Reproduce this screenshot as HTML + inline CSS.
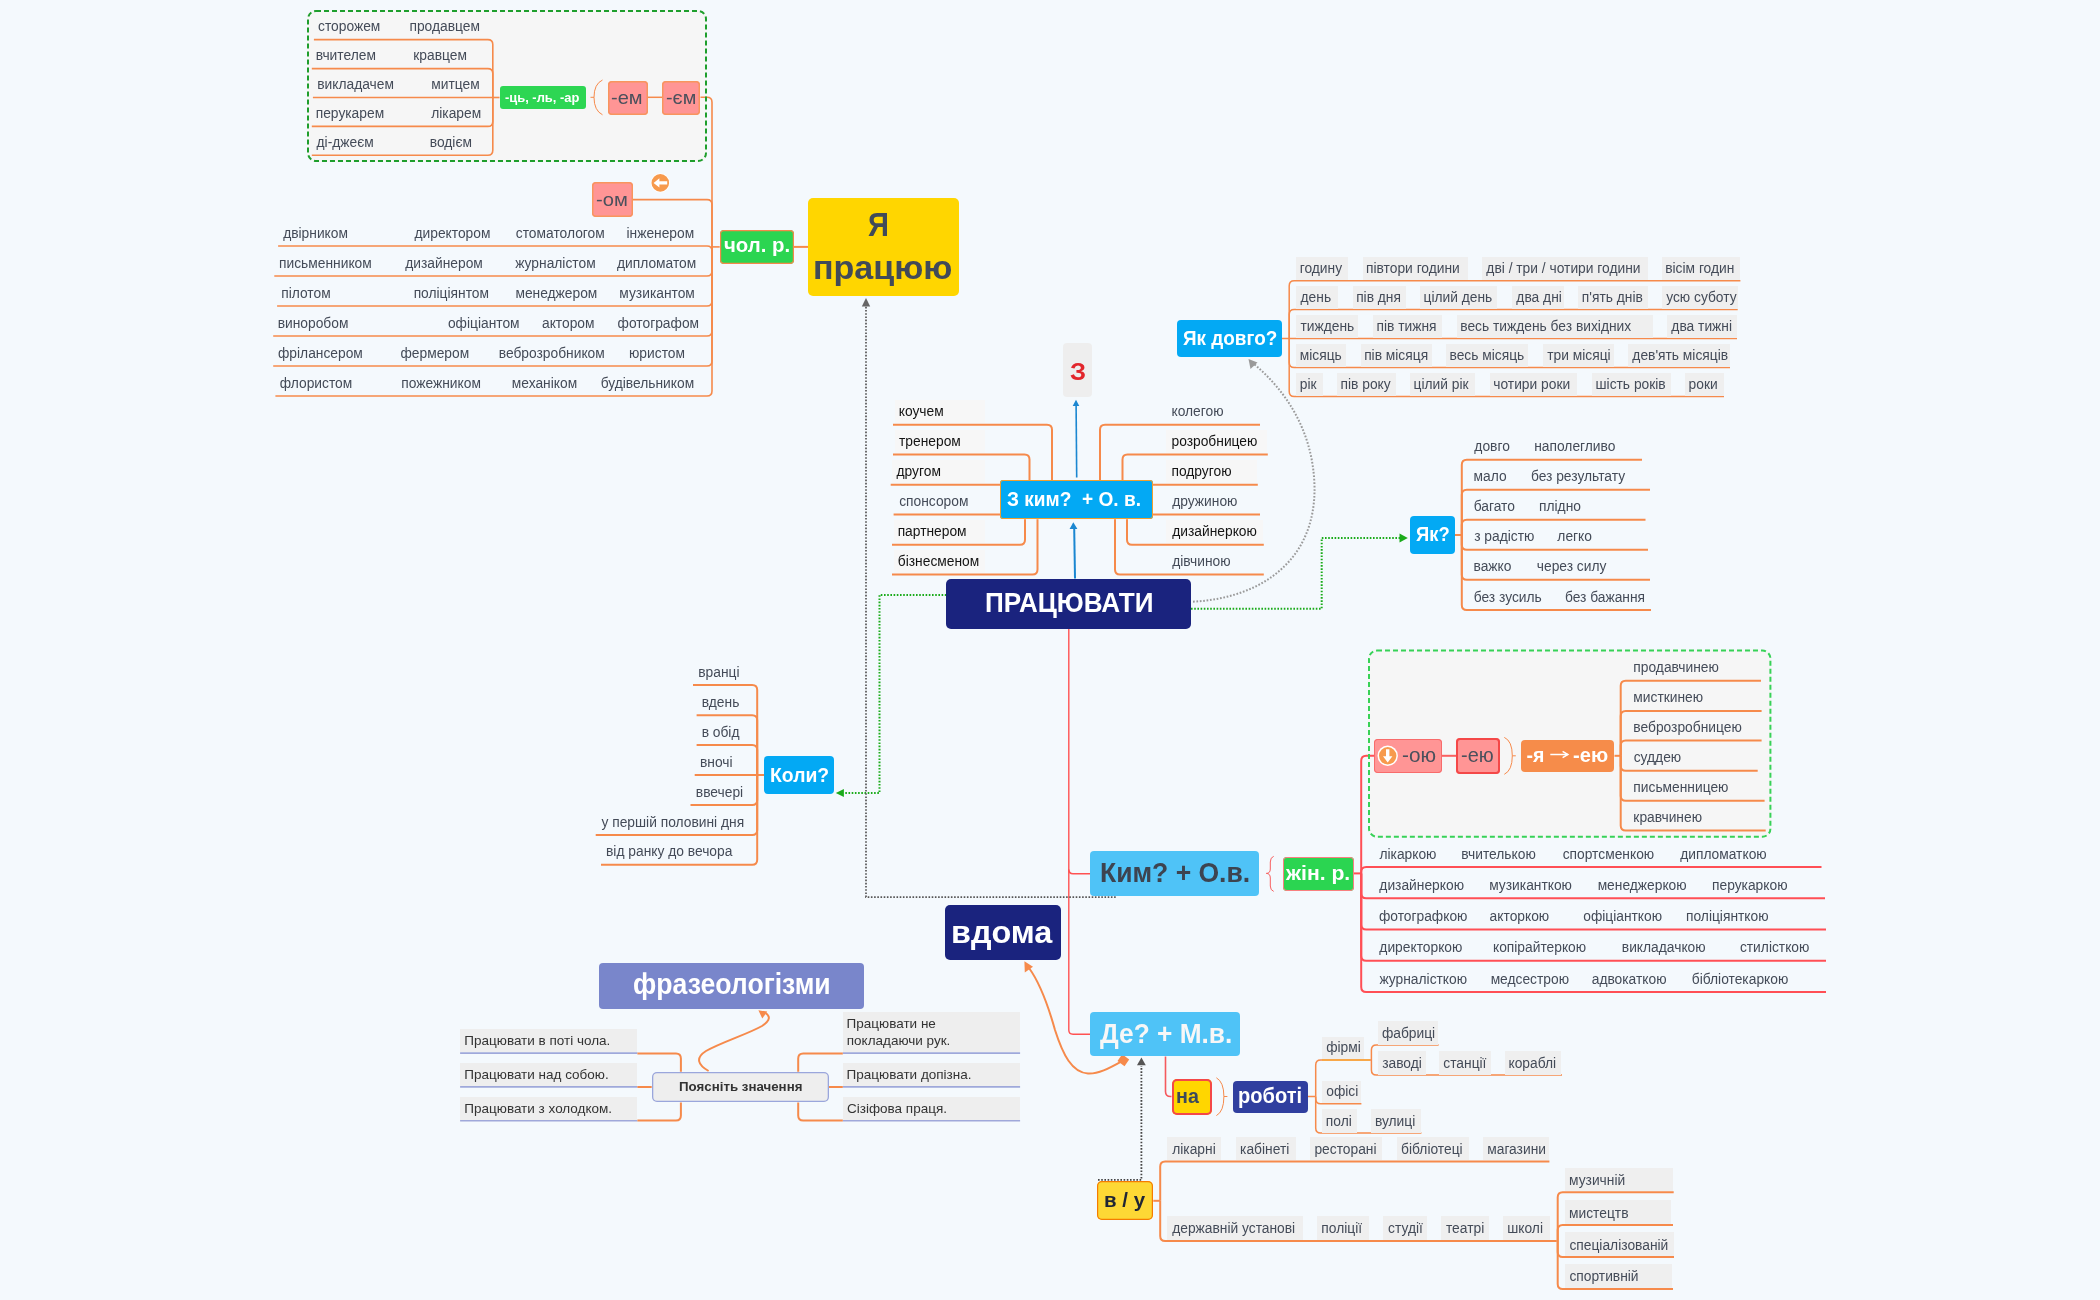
<!DOCTYPE html>
<html><head><meta charset="utf-8"><style>
html,body{margin:0;padding:0;}
body{width:2100px;height:1300px;background:#f4f9fd;position:relative;overflow:hidden;font-family:"Liberation Sans", sans-serif;}
.a{position:absolute;}
.t{position:absolute;white-space:nowrap;}
svg{position:absolute;left:0;top:0;}
</style></head><body>
<svg width="2100" height="1300"><rect x="307" y="10" width="400" height="152" rx="8" fill="#f6f6f6"/><rect x="1368" y="649.6" width="403.4000000000001" height="188.10000000000002" rx="8" fill="#f6f6f6"/></svg>
<svg width="2100" height="1300"><path d="M499.5,97.5 L492.8,97.5" fill="none" stroke="#f68a4b" stroke-width="1.6" /><path d="M492.8,97.5 L492.8,44.6 Q492.8,39.6 487.8,39.6 L313.9,39.6" fill="none" stroke="#f68a4b" stroke-width="1.6" /><path d="M492.8,97.5 L492.8,73.6 Q492.8,68.6 487.8,68.6 L311.8,68.6" fill="none" stroke="#f68a4b" stroke-width="1.6" /><path d="M492.8,97.5 L312.9,97.5" fill="none" stroke="#f68a4b" stroke-width="1.6" /><path d="M492.8,97.5 L492.8,121.4 Q492.8,126.4 487.8,126.4 L311.8,126.4" fill="none" stroke="#f68a4b" stroke-width="1.6" /><path d="M492.8,97.5 L492.8,150.2 Q492.8,155.2 487.8,155.2 L311.8,155.2" fill="none" stroke="#f68a4b" stroke-width="1.6" /><path d="M590.5,97.3 H594 M602.5,80 Q594,84 594,97.3 Q594,110.5 602.5,114.8" fill="none" stroke="#f68a4b" stroke-width="1" /><path d="M647.7,97.3 H662.2" fill="none" stroke="#f68a4b" stroke-width="1.5" /><path d="M719.7,246.9 L712,246.9" fill="none" stroke="#f68a4b" stroke-width="1.6" /><path d="M712,246.9 L712,102.3 Q712,97.3 707,97.3 L700.5,97.3" fill="none" stroke="#f68a4b" stroke-width="1.6" /><path d="M712,246.9 L712,204.6 Q712,199.6 707,199.6 L632.7,199.6" fill="none" stroke="#f68a4b" stroke-width="1.6" /><path d="M712,246.9 L712,251 Q712,246 707,246 L278.1,246" fill="none" stroke="#f68a4b" stroke-width="1.6" /><path d="M712,246.9 L712,271 Q712,276 707,276 L274.3,276" fill="none" stroke="#f68a4b" stroke-width="1.6" /><path d="M712,246.9 L712,301 Q712,306 707,306 L277.1,306" fill="none" stroke="#f68a4b" stroke-width="1.6" /><path d="M712,246.9 L712,331 Q712,336 707,336 L273.2,336" fill="none" stroke="#f68a4b" stroke-width="1.6" /><path d="M712,246.9 L712,361 Q712,366 707,366 L273.2,366" fill="none" stroke="#f68a4b" stroke-width="1.6" /><path d="M712,246.9 L712,391 Q712,396 707,396 L275.4,396" fill="none" stroke="#f68a4b" stroke-width="1.6" /><path d="M793.9,246.9 H808" fill="none" stroke="#f68a4b" stroke-width="2" /><path d="M1076.7,477.5 L1076.1,405" fill="none" stroke="#1b87d1" stroke-width="1.6" /><path d="M1076,399.8 L1072.7,406 L1079.3,406 Z" fill="#1b87d1"/><path d="M1075,578.5 L1074.2,528" fill="none" stroke="#1b87d1" stroke-width="2" /><path d="M1073.3,522.3 L1069.6,529 L1077.4,529 Z" fill="#1b87d1"/><path d="M893,424.7 H1047 Q1052,424.7 1052,429.7 V480.2" fill="none" stroke="#f68a4b" stroke-width="2" /><path d="M893,454.6 H1024.5 Q1029.5,454.6 1029.5,459.6 V480.2" fill="none" stroke="#f68a4b" stroke-width="2" /><path d="M890.7,484.7 H1000.2" fill="none" stroke="#f68a4b" stroke-width="2" /><path d="M893.6,514.5 H1000.2" fill="none" stroke="#f68a4b" stroke-width="2" /><path d="M892,544.8 H1020 Q1025,544.8 1025,539.8 V519.2" fill="none" stroke="#f68a4b" stroke-width="2" /><path d="M892,574.6 H1032.5 Q1037.5,574.6 1037.5,569.6 V519.2" fill="none" stroke="#f68a4b" stroke-width="2" /><path d="M1260,424.7 H1105 Q1100,424.7 1100,429.7 V480.2" fill="none" stroke="#f68a4b" stroke-width="2" /><path d="M1267.8,454.6 H1127.5 Q1122.5,454.6 1122.5,459.6 V480.2" fill="none" stroke="#f68a4b" stroke-width="2" /><path d="M1152.8,484.7 H1257.8" fill="none" stroke="#f68a4b" stroke-width="2" /><path d="M1152.8,514.5 H1260" fill="none" stroke="#f68a4b" stroke-width="2" /><path d="M1263.8,544.8 H1132 Q1127,544.8 1127,539.8 V519.2" fill="none" stroke="#f68a4b" stroke-width="2" /><path d="M1263.8,574.6 H1120 Q1115,574.6 1115,569.6 V519.2" fill="none" stroke="#f68a4b" stroke-width="2" /><path d="M1068.8,628.6 V1030 Q1068.8,1034.2 1073,1034.2 H1090.3" fill="none" stroke="#ff5252" stroke-width="1.4" /><path d="M1068.8,869.5 Q1068.8,873.7 1073,873.7 H1090.3" fill="none" stroke="#ff5252" stroke-width="1.6" /><path d="M1282,338.5 L1289.2,338.5" fill="none" stroke="#f68a4b" stroke-width="1.5" /><path d="M1289.2,338.5 L1289.2,285.8 Q1289.2,280.8 1294.2,280.8 L1740.4,280.8" fill="none" stroke="#f68a4b" stroke-width="1.5" /><path d="M1289.2,338.5 L1289.2,314.6 Q1289.2,309.6 1294.2,309.6 L1737.7,309.6" fill="none" stroke="#f68a4b" stroke-width="1.5" /><path d="M1289.2,338.6 L1737,338.6" fill="none" stroke="#f68a4b" stroke-width="1.5" /><path d="M1289.2,338.5 L1289.2,362.6 Q1289.2,367.6 1294.2,367.6 L1730,367.6" fill="none" stroke="#f68a4b" stroke-width="1.5" /><path d="M1289.2,338.5 L1289.2,391.4 Q1289.2,396.4 1294.2,396.4 L1724,396.4" fill="none" stroke="#f68a4b" stroke-width="1.5" /><path d="M1455,535 L1461.8,535" fill="none" stroke="#f68a4b" stroke-width="2" /><path d="M1461.8,535 L1461.8,464.8 Q1461.8,459.8 1466.8,459.8 L1642,459.8" fill="none" stroke="#f68a4b" stroke-width="2" /><path d="M1461.8,535 L1461.8,494.8 Q1461.8,489.8 1466.8,489.8 L1650,489.8" fill="none" stroke="#f68a4b" stroke-width="2" /><path d="M1461.8,535 L1461.8,524.8 Q1461.8,519.8 1466.8,519.8 L1645.5,519.8" fill="none" stroke="#f68a4b" stroke-width="2" /><path d="M1461.8,535 L1461.8,544.8 Q1461.8,549.8 1466.8,549.8 L1648,549.8" fill="none" stroke="#f68a4b" stroke-width="2" /><path d="M1461.8,535 L1461.8,574.8 Q1461.8,579.8 1466.8,579.8 L1650,579.8" fill="none" stroke="#f68a4b" stroke-width="2" /><path d="M1461.8,535 L1461.8,605.0 Q1461.8,610.0 1466.8,610.0 L1651,610.0" fill="none" stroke="#f68a4b" stroke-width="2" /><path d="M1191,608.8 H1321.7 V538 H1400" fill="none" stroke="#1aab1a" stroke-width="2" stroke-dasharray="1.6,1.6" /><path d="M1407.8,538 L1399.5,533.4 L1399.5,542.6 Z" fill="#1aab1a"/><path d="M1193,601.7 C1262,598 1316,560 1314.5,486 C1313,430 1285,390 1254,364" fill="none" stroke="#9a9a9a" stroke-width="2" stroke-dasharray="1.7,1.7" /><path d="M1248.5,359 L1250.5,369 L1257.5,362.5 Z" fill="#9a9a9a"/><path d="M1441.5,755.8 H1456.2" fill="none" stroke="#f96060" stroke-width="2" /><path d="M1504.3,737.4 Q1512.3,741 1512.3,755.8 Q1512.3,770.5 1504.3,774.3 M1512.3,755.8 H1515.8" fill="none" stroke="#f68a4b" stroke-width="1" /><path d="M1614.5,755.8 L1620.7,755.8" fill="none" stroke="#f68a4b" stroke-width="2" /><path d="M1620.7,755.8 L1620.7,685.7 Q1620.7,680.7 1625.7,680.7 L1761,680.7" fill="none" stroke="#f68a4b" stroke-width="2" /><path d="M1620.7,755.8 L1620.7,715.9 Q1620.7,710.9 1625.7,710.9 L1761.6,710.9" fill="none" stroke="#f68a4b" stroke-width="2" /><path d="M1620.7,755.8 L1620.7,745.6 Q1620.7,740.6 1625.7,740.6 L1761.6,740.6" fill="none" stroke="#f68a4b" stroke-width="2" /><path d="M1620.7,755.8 L1620.7,765.7 Q1620.7,770.7 1625.7,770.7 L1757.7,770.7" fill="none" stroke="#f68a4b" stroke-width="2" /><path d="M1620.7,755.8 L1620.7,795.7 Q1620.7,800.7 1625.7,800.7 L1764.6,800.7" fill="none" stroke="#f68a4b" stroke-width="2" /><path d="M1620.7,755.8 L1620.7,825.4 Q1620.7,830.4 1625.7,830.4 L1765.7,830.4" fill="none" stroke="#f68a4b" stroke-width="2" /><path d="M1273.7,856.3 Q1270.3,857.5 1270.3,862 V869 Q1270.3,873.4 1266.3,873.4 Q1270.3,873.4 1270.3,878 V886 Q1270.3,890.2 1273.7,891.4" fill="none" stroke="#f86060" stroke-width="1" /><path d="M1354,873.4 L1361.2,873.4" fill="none" stroke="#ff4f55" stroke-width="2" /><path d="M1361.2,873.4 L1361.2,760.8 Q1361.2,755.8 1366.2,755.8 L1374,755.8" fill="none" stroke="#ff4f55" stroke-width="2" /><path d="M1361.2,873.4 L1361.2,872.1 Q1361.2,867.1 1366.2,867.1 L1821.5,867.1" fill="none" stroke="#ff4f55" stroke-width="2" /><path d="M1361.2,873.4 L1361.2,893.3 Q1361.2,898.3 1366.2,898.3 L1825,898.3" fill="none" stroke="#ff4f55" stroke-width="2" /><path d="M1361.2,873.4 L1361.2,924.5 Q1361.2,929.5 1366.2,929.5 L1826,929.5" fill="none" stroke="#ff4f55" stroke-width="2" /><path d="M1361.2,873.4 L1361.2,955.8 Q1361.2,960.8 1366.2,960.8 L1826,960.8" fill="none" stroke="#ff4f55" stroke-width="2" /><path d="M1361.2,873.4 L1361.2,987.0 Q1361.2,992.0 1366.2,992.0 L1826,992.0" fill="none" stroke="#ff4f55" stroke-width="2" /><path d="M1165.5,1056.5 V1091.5 Q1165.5,1096.5 1170.5,1096.5 H1171.5" fill="none" stroke="#f55a5e" stroke-width="1.6" /><path d="M1216.4,1077.8 Q1223.9,1082 1223.9,1096.5 Q1223.9,1111.5 1216.4,1115.6 M1223.9,1096.5 H1227.4" fill="none" stroke="#f68a4b" stroke-width="1" /><path d="M1307.9,1096.5 L1315.7,1096.5" fill="none" stroke="#f68a4b" stroke-width="1.5" /><path d="M1315.7,1096.5 L1315.7,1065 Q1315.7,1060 1320.7,1060 L1370,1060" fill="none" stroke="#f68a4b" stroke-width="1.5" /><path d="M1315.7,1096.5 L1315.7,1098.7 Q1315.7,1103.7 1320.7,1103.7 L1361.4,1103.7" fill="none" stroke="#f68a4b" stroke-width="1.5" /><path d="M1315.7,1096.5 L1315.7,1127.9 Q1315.7,1132.9 1320.7,1132.9 L1421.4,1132.9" fill="none" stroke="#f68a4b" stroke-width="1.5" /><path d="M1322,1060 H1370" fill="none" stroke="#f9a83a" stroke-width="1.5" /><path d="M1370,1060 L1371.4,1060" fill="none" stroke="#f68a4b" stroke-width="1.5" /><path d="M1371.4,1060 L1371.4,1049.9 Q1371.4,1044.9 1376.4,1044.9 L1438.6,1044.9" fill="none" stroke="#f68a4b" stroke-width="1.5" /><path d="M1371.4,1060 L1371.4,1069.9 Q1371.4,1074.9 1376.4,1074.9 L1562,1074.9" fill="none" stroke="#f68a4b" stroke-width="1.5" /><path d="M1153.3,1200.8 L1160.2,1200.8" fill="none" stroke="#f68a4b" stroke-width="2" /><path d="M1160.2,1200.8 L1160.2,1166.4 Q1160.2,1161.4 1165.2,1161.4 L1549.4,1161.4" fill="none" stroke="#f68a4b" stroke-width="2" /><path d="M1160.2,1200.8 L1160.2,1235.9 Q1160.2,1240.9 1165.2,1240.9 L1556.6,1240.9" fill="none" stroke="#f68a4b" stroke-width="2" /><path d="M1556.6,1240.9 L1557.7,1240.9" fill="none" stroke="#f68a4b" stroke-width="2" /><path d="M1557.7,1240.9 L1557.7,1197.3 Q1557.7,1192.3 1562.7,1192.3 L1673.7,1192.3" fill="none" stroke="#f68a4b" stroke-width="2" /><path d="M1557.7,1240.9 L1557.7,1229.9 Q1557.7,1224.9 1562.7,1224.9 L1673,1224.9" fill="none" stroke="#f68a4b" stroke-width="2" /><path d="M1557.7,1240.9 L1557.7,1252 Q1557.7,1257 1562.7,1257 L1674,1257" fill="none" stroke="#f68a4b" stroke-width="2" /><path d="M1557.7,1240.9 L1557.7,1284.1 Q1557.7,1289.1 1562.7,1289.1 L1673,1289.1" fill="none" stroke="#f68a4b" stroke-width="2" /><path d="M1098,1179.9 H1141.4 V1066" fill="none" stroke="#444" stroke-width="1.8" stroke-dasharray="1.6,1.6" /><path d="M1141.4,1057.4 L1137,1065.2 L1145.8,1065.2 Z" fill="#555"/><path d="M764,775 L757.2,775" fill="none" stroke="#f68a4b" stroke-width="2" /><path d="M757.2,775 L757.2,690 Q757.2,685 752.2,685 L693,685" fill="none" stroke="#f68a4b" stroke-width="2" /><path d="M757.2,775 L757.2,720.2 Q757.2,715.2 752.2,715.2 L696.6,715.2" fill="none" stroke="#f68a4b" stroke-width="2" /><path d="M757.2,775 L757.2,750 Q757.2,745 752.2,745 L696.6,745" fill="none" stroke="#f68a4b" stroke-width="2" /><path d="M757.2,775.1 L694.7,775.1" fill="none" stroke="#f68a4b" stroke-width="2" /><path d="M757.2,775 L757.2,800 Q757.2,805 752.2,805 L690.5,805" fill="none" stroke="#f68a4b" stroke-width="2" /><path d="M757.2,775 L757.2,830.1 Q757.2,835.1 752.2,835.1 L595.7,835.1" fill="none" stroke="#f68a4b" stroke-width="2" /><path d="M757.2,775 L757.2,859.7 Q757.2,864.7 752.2,864.7 L601,864.7" fill="none" stroke="#f68a4b" stroke-width="2" /><path d="M946.4,594.9 H879.5 V793 H844" fill="none" stroke="#1aab1a" stroke-width="2" stroke-dasharray="1.6,1.6" /><path d="M835.8,793 L843.9,789 L843.9,797 Z" fill="#1aab1a"/><path d="M1115.7,897.1 H866 V306" fill="none" stroke="#555" stroke-width="1.7" stroke-dasharray="1.6,1.6" /><path d="M866,297.9 L861.8,306.5 L870.2,306.5 Z" fill="#666"/><path d="M1123.4,1060.3 C1108,1069 1098,1074 1088,1073.5 C1072,1072.5 1063,1055 1055,1030 C1048,1005 1040,983 1029,968" fill="none" stroke="#f68a4b" stroke-width="2" /><path d="M1024.4,961.3 L1024.8,972.5 L1033,966.8 Z" fill="#f68a4b"/><path d="M1117.5,1061 L1122.2,1054.3 L1129.2,1059.6 L1124.5,1066.3 Z" fill="#f68a4b"/><path d="M708.6,1071 C698,1065 695,1058 706,1051 C722,1042 748,1034 762,1026 C771,1020 770,1016 765.5,1013" fill="none" stroke="#f68a4b" stroke-width="2" /><path d="M758.4,1010.3 L767.2,1011.6 L762.3,1018.6 Z" fill="#f68a4b"/><path d="M460.1,1053.1 H637.4" fill="none" stroke="#9fa8da" stroke-width="1.6" /><path d="M460.1,1086.8999999999999 H637.4" fill="none" stroke="#9fa8da" stroke-width="1.6" /><path d="M460.1,1120.8 H637.4" fill="none" stroke="#9fa8da" stroke-width="1.6" /><path d="M842.8,1086.8999999999999 H1020.1" fill="none" stroke="#9fa8da" stroke-width="1.6" /><path d="M842.8,1120.8 H1020.1" fill="none" stroke="#9fa8da" stroke-width="1.6" /><path d="M842.8,1053.1 H1020.1" fill="none" stroke="#9fa8da" stroke-width="1.6" /><path d="M637.4,1053.4 H676 Q680.9,1053.4 680.9,1058.4 V1071.8" fill="none" stroke="#f68a4b" stroke-width="2" /><path d="M637.4,1087 H651.7" fill="none" stroke="#f68a4b" stroke-width="2" /><path d="M637.4,1120.5 H676 Q680.9,1120.5 680.9,1115.5 V1102.5" fill="none" stroke="#f68a4b" stroke-width="2" /><path d="M842.8,1053.4 H803.2 Q798.2,1053.4 798.2,1058.4 V1071.8" fill="none" stroke="#f68a4b" stroke-width="2" /><path d="M842.8,1087 H828.6" fill="none" stroke="#f68a4b" stroke-width="2" /><path d="M842.8,1120.5 H803.2 Q798.2,1120.5 798.2,1115.5 V1102.5" fill="none" stroke="#f68a4b" stroke-width="2" /></svg>
<div class="a" style="left:0;top:0;width:2100px;height:1300px;will-change:transform"><div class="t" style="left:318.01px;top:20.12px;font-size:13.8px;line-height:13.8px;color:#444b58;">сторожем</div><div class="t" style="left:409.43px;top:20.12px;font-size:13.8px;line-height:13.8px;color:#444b58;">продавцем</div><div class="t" style="left:315.73px;top:49.12px;font-size:13.8px;line-height:13.8px;color:#444b58;">вчителем</div><div class="t" style="left:413.27px;top:49.12px;font-size:13.8px;line-height:13.8px;color:#444b58;">кравцем</div><div class="t" style="left:317.23px;top:78.02px;font-size:13.8px;line-height:13.8px;color:#444b58;">викладачем</div><div class="t" style="left:431.23px;top:78.02px;font-size:13.8px;line-height:13.8px;color:#444b58;">митцем</div><div class="t" style="left:315.73px;top:106.92px;font-size:13.8px;line-height:13.8px;color:#444b58;">перукарем</div><div class="t" style="left:431.23px;top:106.92px;font-size:13.8px;line-height:13.8px;color:#444b58;">лікарем</div><div class="t" style="left:316.56px;top:135.72px;font-size:13.8px;line-height:13.8px;color:#444b58;">ді-джеєм</div><div class="t" style="left:429.73px;top:135.72px;font-size:13.8px;line-height:13.8px;color:#444b58;">водієм</div><div class="a" style="left:499.50px;top:85.80px;width:86.20px;height:23.20px;background:#2dd653;border-radius:3px;"></div><div class="t" style="left:505.48px;top:91.44px;font-size:13.3px;line-height:13.3px;color:#fff;font-weight:bold;transform:scaleX(0.9712);transform-origin:0 0;">-ць, -ль, -ар</div><div class="a" style="left:607.50px;top:80.50px;width:40.20px;height:34.30px;background:#ff9595;border-radius:4px;box-shadow:inset 0 0 0 1.5px #f8955e;"></div><div class="t" style="left:611.30px;top:88.12px;font-size:19px;line-height:19px;color:#4a505c;transform:scaleX(1.0526);transform-origin:0 0;">-ем</div><div class="a" style="left:662.20px;top:80.50px;width:38.30px;height:34.30px;background:#ff9595;border-radius:4px;box-shadow:inset 0 0 0 1.5px #f8955e;"></div><div class="t" style="left:665.61px;top:88.12px;font-size:19px;line-height:19px;color:#4a505c;transform:scaleX(1.0396);transform-origin:0 0;">-єм</div><div class="a" style="left:592.10px;top:182.30px;width:40.60px;height:34.50px;background:#ff9595;border-radius:4px;box-shadow:inset 0 0 0 1.5px #f8955e;"></div><div class="t" style="left:595.99px;top:191.02px;font-size:18.4px;line-height:18.4px;color:#4a505c;transform:scaleX(1.0981);transform-origin:0 0;">-ом</div><div class="t" style="left:283.16px;top:226.52px;font-size:13.8px;line-height:13.8px;color:#444b58;">двірником</div><div class="t" style="left:414.46px;top:226.52px;font-size:13.8px;line-height:13.8px;color:#444b58;">директором</div><div class="t" style="left:515.81px;top:226.52px;font-size:13.8px;line-height:13.8px;color:#444b58;">стоматологом</div><div class="t" style="left:626.47px;top:226.52px;font-size:13.8px;line-height:13.8px;color:#444b58;">інженером</div><div class="t" style="left:279.03px;top:256.52px;font-size:13.8px;line-height:13.8px;color:#444b58;">письменником</div><div class="t" style="left:405.26px;top:256.52px;font-size:13.8px;line-height:13.8px;color:#444b58;">дизайнером</div><div class="t" style="left:515.23px;top:256.52px;font-size:13.8px;line-height:13.8px;color:#444b58;">журналістом</div><div class="t" style="left:616.96px;top:256.52px;font-size:13.8px;line-height:13.8px;color:#444b58;">дипломатом</div><div class="t" style="left:281.23px;top:286.52px;font-size:13.8px;line-height:13.8px;color:#444b58;">пілотом</div><div class="t" style="left:413.63px;top:286.52px;font-size:13.8px;line-height:13.8px;color:#444b58;">поліціянтом</div><div class="t" style="left:515.43px;top:286.52px;font-size:13.8px;line-height:13.8px;color:#444b58;">менеджером</div><div class="t" style="left:619.33px;top:286.52px;font-size:13.8px;line-height:13.8px;color:#444b58;">музикантом</div><div class="t" style="left:277.63px;top:316.52px;font-size:13.8px;line-height:13.8px;color:#444b58;">виноробом</div><div class="t" style="left:447.91px;top:316.52px;font-size:13.8px;line-height:13.8px;color:#444b58;">офіціантом</div><div class="t" style="left:542.01px;top:316.52px;font-size:13.8px;line-height:13.8px;color:#444b58;">актором</div><div class="t" style="left:617.61px;top:316.52px;font-size:13.8px;line-height:13.8px;color:#444b58;">фотографом</div><div class="t" style="left:278.01px;top:346.52px;font-size:13.8px;line-height:13.8px;color:#444b58;">фрілансером</div><div class="t" style="left:400.51px;top:346.52px;font-size:13.8px;line-height:13.8px;color:#444b58;">фермером</div><div class="t" style="left:498.73px;top:346.52px;font-size:13.8px;line-height:13.8px;color:#444b58;">веброзробником</div><div class="t" style="left:629.03px;top:346.52px;font-size:13.8px;line-height:13.8px;color:#444b58;">юристом</div><div class="t" style="left:279.71px;top:376.52px;font-size:13.8px;line-height:13.8px;color:#444b58;">флористом</div><div class="t" style="left:401.23px;top:376.52px;font-size:13.8px;line-height:13.8px;color:#444b58;">пожежником</div><div class="t" style="left:511.83px;top:376.52px;font-size:13.8px;line-height:13.8px;color:#444b58;">механіком</div><div class="t" style="left:600.71px;top:376.52px;font-size:13.8px;line-height:13.8px;color:#444b58;">будівельником</div><div class="a" style="left:719.70px;top:230.10px;width:74.20px;height:34.40px;background:#2bd551;border-radius:4px;box-shadow:inset 0 0 0 1.2px #f5884a;"></div><div class="t" style="left:723.68px;top:235.48px;font-size:20.7px;line-height:20.7px;color:#fff;font-weight:bold;transform:scaleX(0.9854);transform-origin:0 0;">чол. р.</div><div class="a" style="left:807.80px;top:198.10px;width:151.20px;height:97.70px;background:#ffd600;border-radius:5px;"></div><div class="t" style="left:868.19px;top:208.17px;font-size:33px;line-height:33px;color:#414a58;font-weight:bold;transform:scaleX(0.8828);transform-origin:0 0;">Я</div><div class="t" style="left:813.42px;top:251.17px;font-size:33px;line-height:33px;color:#414a58;font-weight:bold;transform:scaleX(1.0319);transform-origin:0 0;">працюю</div><div class="a" style="left:1063.20px;top:342.50px;width:28.50px;height:54.00px;background:#eeeeee;border-radius:4px;"></div><div class="t" style="left:1069.82px;top:360.45px;font-size:24.4px;line-height:24.4px;color:#e2262c;font-weight:bold;transform:scaleX(1.0512);transform-origin:0 0;">З</div><div class="a" style="left:1000.20px;top:480.20px;width:152.60px;height:39.00px;background:#03a9f4;border-radius:3px;box-shadow:inset 0 0 0 1px #f0a030;"></div><div class="t" style="left:1006.57px;top:489.09px;font-size:20.8px;line-height:20.8px;color:#fff;font-weight:bold;transform:scaleX(0.9188);transform-origin:0 0;">З ким?  + О. в.</div><div class="a" style="left:894.50px;top:400.00px;width:90.90px;height:22.80px;background:#f7f7f7;border-radius:0px;"></div><div class="t" style="left:898.77px;top:405.02px;font-size:13.8px;line-height:13.8px;color:#141414;">коучем</div><div class="a" style="left:894.50px;top:429.90px;width:90.90px;height:22.80px;background:#f7f7f7;border-radius:0px;"></div><div class="t" style="left:899.06px;top:434.92px;font-size:13.8px;line-height:13.8px;color:#141414;">тренером</div><div class="a" style="left:892.20px;top:460.00px;width:93.20px;height:22.80px;background:#f7f7f7;border-radius:0px;"></div><div class="t" style="left:896.56px;top:465.02px;font-size:13.8px;line-height:13.8px;color:#141414;">другом</div><div class="t" style="left:899.21px;top:494.82px;font-size:13.8px;line-height:13.8px;color:#444b58;">спонсором</div><div class="a" style="left:893.50px;top:520.10px;width:91.90px;height:22.80px;background:#f7f7f7;border-radius:0px;"></div><div class="t" style="left:897.63px;top:525.12px;font-size:13.8px;line-height:13.8px;color:#141414;">партнером</div><div class="a" style="left:893.50px;top:549.90px;width:91.90px;height:22.80px;background:#f7f7f7;border-radius:0px;"></div><div class="t" style="left:897.81px;top:554.92px;font-size:13.8px;line-height:13.8px;color:#141414;">бізнесменом</div><div class="t" style="left:1171.47px;top:405.02px;font-size:13.8px;line-height:13.8px;color:#444b58;">колегою</div><div class="a" style="left:1166.40px;top:429.90px;width:101.10px;height:22.80px;background:#f7f7f7;border-radius:0px;"></div><div class="t" style="left:1171.50px;top:434.92px;font-size:13.8px;line-height:13.8px;color:#141414;">розробницею</div><div class="a" style="left:1166.40px;top:460.00px;width:90.70px;height:22.80px;background:#f7f7f7;border-radius:0px;"></div><div class="t" style="left:1171.43px;top:465.02px;font-size:13.8px;line-height:13.8px;color:#141414;">подругою</div><div class="t" style="left:1172.26px;top:494.82px;font-size:13.8px;line-height:13.8px;color:#444b58;">дружиною</div><div class="a" style="left:1166.40px;top:520.10px;width:96.70px;height:22.80px;background:#f7f7f7;border-radius:0px;"></div><div class="t" style="left:1172.26px;top:525.12px;font-size:13.8px;line-height:13.8px;color:#141414;">дизайнеркою</div><div class="t" style="left:1172.26px;top:554.92px;font-size:13.8px;line-height:13.8px;color:#444b58;">дівчиною</div><div class="a" style="left:946.40px;top:578.70px;width:244.60px;height:49.90px;background:#1a237e;border-radius:5px;"></div><div class="t" style="left:984.64px;top:588.47px;font-size:28.5px;line-height:28.5px;color:#fff;font-weight:bold;transform:scaleX(0.9162);transform-origin:0 0;">ПРАЦЮВАТИ</div><div class="a" style="left:1176.90px;top:319.90px;width:105.10px;height:37.50px;background:#03a9f4;border-radius:4px;"></div><div class="t" style="left:1182.67px;top:329.34px;font-size:19.8px;line-height:19.8px;color:#fff;font-weight:bold;transform:scaleX(0.9561);transform-origin:0 0;">Як довго?</div><div class="a" style="left:1296.20px;top:256.70px;width:51.70px;height:22.90px;background:#efefef;border-radius:0px;"></div><div class="t" style="left:1299.73px;top:261.82px;font-size:13.8px;line-height:13.8px;color:#444b58;">годину</div><div class="a" style="left:1362.50px;top:256.70px;width:105.30px;height:22.90px;background:#efefef;border-radius:0px;"></div><div class="t" style="left:1366.03px;top:261.82px;font-size:13.8px;line-height:13.8px;color:#444b58;">півтори години</div><div class="a" style="left:1482.00px;top:256.70px;width:165.90px;height:22.90px;background:#efefef;border-radius:0px;"></div><div class="t" style="left:1486.36px;top:261.82px;font-size:13.8px;line-height:13.8px;color:#444b58;">дві / три / чотири години</div><div class="a" style="left:1661.70px;top:256.70px;width:78.70px;height:22.90px;background:#efefef;border-radius:0px;"></div><div class="t" style="left:1665.23px;top:261.82px;font-size:13.8px;line-height:13.8px;color:#444b58;">вісім годин</div><div class="a" style="left:1296.20px;top:285.70px;width:41.80px;height:22.90px;background:#efefef;border-radius:0px;"></div><div class="t" style="left:1300.56px;top:290.82px;font-size:13.8px;line-height:13.8px;color:#444b58;">день</div><div class="a" style="left:1352.60px;top:285.70px;width:53.00px;height:22.90px;background:#efefef;border-radius:0px;"></div><div class="t" style="left:1356.13px;top:290.82px;font-size:13.8px;line-height:13.8px;color:#444b58;">пів дня</div><div class="a" style="left:1420.00px;top:285.70px;width:77.30px;height:22.90px;background:#efefef;border-radius:0px;"></div><div class="t" style="left:1423.53px;top:290.82px;font-size:13.8px;line-height:13.8px;color:#444b58;">цілий день</div><div class="a" style="left:1512.00px;top:285.70px;width:52.20px;height:22.90px;background:#efefef;border-radius:0px;"></div><div class="t" style="left:1516.36px;top:290.82px;font-size:13.8px;line-height:13.8px;color:#444b58;">два дні</div><div class="a" style="left:1578.30px;top:285.70px;width:69.60px;height:22.90px;background:#efefef;border-radius:0px;"></div><div class="t" style="left:1581.83px;top:290.82px;font-size:13.8px;line-height:13.8px;color:#444b58;">п'ять днів</div><div class="a" style="left:1661.70px;top:285.70px;width:76.00px;height:22.90px;background:#efefef;border-radius:0px;"></div><div class="t" style="left:1666.17px;top:290.82px;font-size:13.8px;line-height:13.8px;color:#444b58;">усю суботу</div><div class="a" style="left:1296.20px;top:315.00px;width:62.20px;height:22.90px;background:#efefef;border-radius:0px;"></div><div class="t" style="left:1300.46px;top:320.12px;font-size:13.8px;line-height:13.8px;color:#444b58;">тиждень</div><div class="a" style="left:1373.00px;top:315.00px;width:69.00px;height:22.90px;background:#efefef;border-radius:0px;"></div><div class="t" style="left:1376.53px;top:320.12px;font-size:13.8px;line-height:13.8px;color:#444b58;">пів тижня</div><div class="a" style="left:1456.70px;top:315.00px;width:196.70px;height:22.90px;background:#efefef;border-radius:0px;"></div><div class="t" style="left:1460.23px;top:320.12px;font-size:13.8px;line-height:13.8px;color:#444b58;">весь тиждень без вихідних</div><div class="a" style="left:1667.00px;top:315.00px;width:70.00px;height:22.90px;background:#efefef;border-radius:0px;"></div><div class="t" style="left:1671.36px;top:320.12px;font-size:13.8px;line-height:13.8px;color:#444b58;">два тижні</div><div class="a" style="left:1296.20px;top:344.00px;width:49.80px;height:22.90px;background:#efefef;border-radius:0px;"></div><div class="t" style="left:1299.73px;top:349.12px;font-size:13.8px;line-height:13.8px;color:#444b58;">місяць</div><div class="a" style="left:1360.60px;top:344.00px;width:71.30px;height:22.90px;background:#efefef;border-radius:0px;"></div><div class="t" style="left:1364.13px;top:349.12px;font-size:13.8px;line-height:13.8px;color:#444b58;">пів місяця</div><div class="a" style="left:1446.00px;top:344.00px;width:82.30px;height:22.90px;background:#efefef;border-radius:0px;"></div><div class="t" style="left:1449.53px;top:349.12px;font-size:13.8px;line-height:13.8px;color:#444b58;">весь місяць</div><div class="a" style="left:1543.00px;top:344.00px;width:71.00px;height:22.90px;background:#efefef;border-radius:0px;"></div><div class="t" style="left:1547.26px;top:349.12px;font-size:13.8px;line-height:13.8px;color:#444b58;">три місяці</div><div class="a" style="left:1628.00px;top:344.00px;width:102.00px;height:22.90px;background:#efefef;border-radius:0px;"></div><div class="t" style="left:1632.36px;top:349.12px;font-size:13.8px;line-height:13.8px;color:#444b58;">дев'ять місяців</div><div class="a" style="left:1296.20px;top:373.00px;width:26.60px;height:22.90px;background:#efefef;border-radius:0px;"></div><div class="t" style="left:1299.80px;top:378.12px;font-size:13.8px;line-height:13.8px;color:#444b58;">рік</div><div class="a" style="left:1337.00px;top:373.00px;width:59.00px;height:22.90px;background:#efefef;border-radius:0px;"></div><div class="t" style="left:1340.53px;top:378.12px;font-size:13.8px;line-height:13.8px;color:#444b58;">пів року</div><div class="a" style="left:1410.00px;top:373.00px;width:65.00px;height:22.90px;background:#efefef;border-radius:0px;"></div><div class="t" style="left:1413.53px;top:378.12px;font-size:13.8px;line-height:13.8px;color:#444b58;">цілий рік</div><div class="a" style="left:1489.60px;top:373.00px;width:87.90px;height:22.90px;background:#efefef;border-radius:0px;"></div><div class="t" style="left:1493.27px;top:378.12px;font-size:13.8px;line-height:13.8px;color:#444b58;">чотири роки</div><div class="a" style="left:1592.00px;top:373.00px;width:78.60px;height:22.90px;background:#efefef;border-radius:0px;"></div><div class="t" style="left:1595.53px;top:378.12px;font-size:13.8px;line-height:13.8px;color:#444b58;">шість років</div><div class="a" style="left:1685.00px;top:373.00px;width:39.00px;height:22.90px;background:#efefef;border-radius:0px;"></div><div class="t" style="left:1688.60px;top:378.12px;font-size:13.8px;line-height:13.8px;color:#444b58;">роки</div><div class="a" style="left:1410.20px;top:516.10px;width:44.80px;height:37.70px;background:#03a9f4;border-radius:4px;"></div><div class="t" style="left:1416.08px;top:525.15px;font-size:19.9px;line-height:19.9px;color:#fff;font-weight:bold;transform:scaleX(0.9249);transform-origin:0 0;">Як?</div><div class="t" style="left:1474.36px;top:440.32px;font-size:13.8px;line-height:13.8px;color:#444b58;">довго</div><div class="t" style="left:1534.23px;top:440.32px;font-size:13.8px;line-height:13.8px;color:#444b58;">наполегливо</div><div class="t" style="left:1473.53px;top:470.32px;font-size:13.8px;line-height:13.8px;color:#444b58;">мало</div><div class="t" style="left:1530.91px;top:470.32px;font-size:13.8px;line-height:13.8px;color:#444b58;">без результату</div><div class="t" style="left:1473.71px;top:500.32px;font-size:13.8px;line-height:13.8px;color:#444b58;">багато</div><div class="t" style="left:1539.03px;top:500.32px;font-size:13.8px;line-height:13.8px;color:#444b58;">плідно</div><div class="t" style="left:1474.15px;top:530.32px;font-size:13.8px;line-height:13.8px;color:#444b58;">з радістю</div><div class="t" style="left:1557.33px;top:530.32px;font-size:13.8px;line-height:13.8px;color:#444b58;">легко</div><div class="t" style="left:1473.53px;top:560.32px;font-size:13.8px;line-height:13.8px;color:#444b58;">важко</div><div class="t" style="left:1536.77px;top:560.32px;font-size:13.8px;line-height:13.8px;color:#444b58;">через силу</div><div class="t" style="left:1473.71px;top:590.52px;font-size:13.8px;line-height:13.8px;color:#444b58;">без зусиль</div><div class="t" style="left:1564.91px;top:590.52px;font-size:13.8px;line-height:13.8px;color:#444b58;">без бажання</div><div class="a" style="left:1374.00px;top:738.70px;width:67.50px;height:34.60px;background:#ff9595;border-radius:4px;box-shadow:inset 0 0 0 1px #f86b6b;"></div><div class="t" style="left:1402.47px;top:745.69px;font-size:19.5px;line-height:19.5px;color:#4a505c;transform:scaleX(1.0636);transform-origin:0 0;">-ою</div><div class="a" style="left:1456.20px;top:738.00px;width:43.50px;height:36.20px;background:#ff9595;border-radius:4px;box-shadow:inset 0 0 0 2px #f44848;"></div><div class="t" style="left:1460.70px;top:745.69px;font-size:19.5px;line-height:19.5px;color:#4a505c;transform:scaleX(1.0207);transform-origin:0 0;">-ею</div><div class="a" style="left:1521.20px;top:739.90px;width:93.30px;height:31.80px;background:#f68c4a;border-radius:4px;"></div><div class="t" style="left:1526.62px;top:745.69px;font-size:19.5px;line-height:19.5px;color:#fff;font-weight:bold;">-я</div><div class="t" style="left:1572.70px;top:745.69px;font-size:19.5px;line-height:19.5px;color:#fff;font-weight:bold;transform:scaleX(1.0318);transform-origin:0 0;">-ею</div><div class="t" style="left:1633.33px;top:661.22px;font-size:13.8px;line-height:13.8px;color:#444b58;">продавчинею</div><div class="t" style="left:1633.33px;top:691.42px;font-size:13.8px;line-height:13.8px;color:#444b58;">мисткинею</div><div class="t" style="left:1633.33px;top:721.12px;font-size:13.8px;line-height:13.8px;color:#444b58;">веброзробницею</div><div class="t" style="left:1633.71px;top:751.22px;font-size:13.8px;line-height:13.8px;color:#444b58;">суддею</div><div class="t" style="left:1633.33px;top:781.22px;font-size:13.8px;line-height:13.8px;color:#444b58;">письменницею</div><div class="t" style="left:1633.37px;top:810.92px;font-size:13.8px;line-height:13.8px;color:#444b58;">кравчинею</div><div class="a" style="left:1090.30px;top:851.40px;width:168.70px;height:44.50px;background:#4fc3f7;border-radius:4px;"></div><div class="t" style="left:1099.91px;top:858.78px;font-size:27.2px;line-height:27.2px;color:#3d4450;font-weight:bold;transform:scaleX(0.9751);transform-origin:0 0;">Ким? + О.в.</div><div class="a" style="left:1282.60px;top:857.40px;width:71.40px;height:33.30px;background:#2bd551;border-radius:4px;box-shadow:inset 0 0 0 1px #f88080;"></div><div class="t" style="left:1286.46px;top:862.51px;font-size:20.9px;line-height:20.9px;color:#fff;font-weight:bold;transform:scaleX(1.0132);transform-origin:0 0;">жін. р.</div><div class="t" style="left:1379.43px;top:847.62px;font-size:13.8px;line-height:13.8px;color:#444b58;">лікаркою</div><div class="t" style="left:1461.33px;top:847.62px;font-size:13.8px;line-height:13.8px;color:#444b58;">вчителькою</div><div class="t" style="left:1562.71px;top:847.62px;font-size:13.8px;line-height:13.8px;color:#444b58;">спортсменкою</div><div class="t" style="left:1680.16px;top:847.62px;font-size:13.8px;line-height:13.8px;color:#444b58;">дипломаткою</div><div class="t" style="left:1379.36px;top:878.82px;font-size:13.8px;line-height:13.8px;color:#444b58;">дизайнеркою</div><div class="t" style="left:1489.23px;top:878.82px;font-size:13.8px;line-height:13.8px;color:#444b58;">музиканткою</div><div class="t" style="left:1597.63px;top:878.82px;font-size:13.8px;line-height:13.8px;color:#444b58;">менеджеркою</div><div class="t" style="left:1712.03px;top:878.82px;font-size:13.8px;line-height:13.8px;color:#444b58;">перукаркою</div><div class="t" style="left:1378.91px;top:910.02px;font-size:13.8px;line-height:13.8px;color:#444b58;">фотографкою</div><div class="t" style="left:1489.61px;top:910.02px;font-size:13.8px;line-height:13.8px;color:#444b58;">акторкою</div><div class="t" style="left:1583.21px;top:910.02px;font-size:13.8px;line-height:13.8px;color:#444b58;">офіціанткою</div><div class="t" style="left:1686.03px;top:910.02px;font-size:13.8px;line-height:13.8px;color:#444b58;">поліціянткою</div><div class="t" style="left:1379.36px;top:941.32px;font-size:13.8px;line-height:13.8px;color:#444b58;">директоркою</div><div class="t" style="left:1492.97px;top:941.32px;font-size:13.8px;line-height:13.8px;color:#444b58;">копірайтеркою</div><div class="t" style="left:1621.83px;top:941.32px;font-size:13.8px;line-height:13.8px;color:#444b58;">викладачкою</div><div class="t" style="left:1739.91px;top:941.32px;font-size:13.8px;line-height:13.8px;color:#444b58;">стилісткою</div><div class="t" style="left:1379.43px;top:972.52px;font-size:13.8px;line-height:13.8px;color:#444b58;">журналісткою</div><div class="t" style="left:1490.63px;top:972.52px;font-size:13.8px;line-height:13.8px;color:#444b58;">медсестрою</div><div class="t" style="left:1591.71px;top:972.52px;font-size:13.8px;line-height:13.8px;color:#444b58;">адвокаткою</div><div class="t" style="left:1691.81px;top:972.52px;font-size:13.8px;line-height:13.8px;color:#444b58;">бібліотекаркою</div><div class="a" style="left:1090.30px;top:1012.10px;width:150.20px;height:44.40px;background:#4fc3f7;border-radius:4px;"></div><div class="t" style="left:1099.60px;top:1019.92px;font-size:27.5px;line-height:27.5px;color:#f7f7f7;font-weight:bold;transform:scaleX(0.9553);transform-origin:0 0;">Де? + М.в.</div><div class="a" style="left:1171.50px;top:1078.90px;width:40.30px;height:36.20px;background:#ffd600;border-radius:5px;box-shadow:inset 0 0 0 2px #f44848;"></div><div class="t" style="left:1176.12px;top:1085.55px;font-size:20.5px;line-height:20.5px;color:#3c4a5c;font-weight:bold;transform:scaleX(0.9601);transform-origin:0 0;">на</div><div class="a" style="left:1232.90px;top:1080.60px;width:75.00px;height:32.30px;background:#303f9f;border-radius:4px;"></div><div class="t" style="left:1238.09px;top:1084.65px;font-size:21.8px;line-height:21.8px;color:#fff;font-weight:bold;transform:scaleX(0.9212);transform-origin:0 0;">роботі</div><div class="a" style="left:1322.30px;top:1036.60px;width:41.40px;height:22.80px;background:#efefef;border-radius:0px;"></div><div class="t" style="left:1326.21px;top:1041.42px;font-size:13.8px;line-height:13.8px;color:#444b58;">фірмі</div><div class="a" style="left:1378.00px;top:1021.40px;width:60.00px;height:23.50px;background:#efefef;border-radius:0px;"></div><div class="t" style="left:1381.91px;top:1026.92px;font-size:13.8px;line-height:13.8px;color:#444b58;">фабриці</div><div class="a" style="left:1378.00px;top:1051.40px;width:47.70px;height:23.50px;background:#efefef;border-radius:0px;"></div><div class="t" style="left:1382.15px;top:1056.92px;font-size:13.8px;line-height:13.8px;color:#444b58;">заводі</div><div class="a" style="left:1439.40px;top:1051.40px;width:51.20px;height:23.50px;background:#efefef;border-radius:0px;"></div><div class="t" style="left:1443.31px;top:1056.92px;font-size:13.8px;line-height:13.8px;color:#444b58;">станції</div><div class="a" style="left:1504.90px;top:1051.40px;width:56.50px;height:23.50px;background:#efefef;border-radius:0px;"></div><div class="t" style="left:1508.47px;top:1056.92px;font-size:13.8px;line-height:13.8px;color:#444b58;">кораблі</div><div class="a" style="left:1322.30px;top:1080.60px;width:38.30px;height:22.80px;background:#efefef;border-radius:0px;"></div><div class="t" style="left:1326.21px;top:1085.42px;font-size:13.8px;line-height:13.8px;color:#444b58;">офісі</div><div class="a" style="left:1322.30px;top:1109.40px;width:34.70px;height:23.50px;background:#efefef;border-radius:0px;"></div><div class="t" style="left:1325.83px;top:1114.92px;font-size:13.8px;line-height:13.8px;color:#444b58;">полі</div><div class="a" style="left:1371.40px;top:1109.40px;width:49.20px;height:23.50px;background:#efefef;border-radius:0px;"></div><div class="t" style="left:1374.93px;top:1114.92px;font-size:13.8px;line-height:13.8px;color:#444b58;">вулиці</div><div class="a" style="left:1097.30px;top:1181.30px;width:56.00px;height:39.20px;background:#fdd835;border-radius:5px;box-shadow:inset 0 0 0 1.2px #f57c00;"></div><div class="t" style="left:1104.37px;top:1189.92px;font-size:20.3px;line-height:20.3px;color:#1f2535;font-weight:bold;transform:scaleX(1.0095);transform-origin:0 0;">в / у</div><div class="a" style="left:1167.00px;top:1136.60px;width:54.40px;height:23.80px;background:#efefef;border-radius:0px;"></div><div class="t" style="left:1172.23px;top:1142.62px;font-size:13.8px;line-height:13.8px;color:#444b58;">лікарні</div><div class="a" style="left:1235.70px;top:1136.60px;width:60.60px;height:23.80px;background:#efefef;border-radius:0px;"></div><div class="t" style="left:1240.07px;top:1142.62px;font-size:13.8px;line-height:13.8px;color:#444b58;">кабінеті</div><div class="a" style="left:1310.00px;top:1136.60px;width:72.30px;height:23.80px;background:#efefef;border-radius:0px;"></div><div class="t" style="left:1314.40px;top:1142.62px;font-size:13.8px;line-height:13.8px;color:#444b58;">ресторані</div><div class="a" style="left:1396.60px;top:1136.60px;width:72.00px;height:23.80px;background:#efefef;border-radius:0px;"></div><div class="t" style="left:1401.11px;top:1142.62px;font-size:13.8px;line-height:13.8px;color:#444b58;">бібліотеці</div><div class="a" style="left:1482.90px;top:1136.60px;width:65.70px;height:23.80px;background:#efefef;border-radius:0px;"></div><div class="t" style="left:1487.23px;top:1142.62px;font-size:13.8px;line-height:13.8px;color:#444b58;">магазини</div><div class="a" style="left:1167.00px;top:1216.30px;width:135.90px;height:23.70px;background:#efefef;border-radius:0px;"></div><div class="t" style="left:1172.16px;top:1222.22px;font-size:13.8px;line-height:13.8px;color:#444b58;">державній установі</div><div class="a" style="left:1317.00px;top:1216.30px;width:52.00px;height:23.70px;background:#efefef;border-radius:0px;"></div><div class="t" style="left:1321.33px;top:1222.22px;font-size:13.8px;line-height:13.8px;color:#444b58;">поліції</div><div class="a" style="left:1383.40px;top:1216.30px;width:43.20px;height:23.70px;background:#efefef;border-radius:0px;"></div><div class="t" style="left:1388.11px;top:1222.22px;font-size:13.8px;line-height:13.8px;color:#444b58;">студії</div><div class="a" style="left:1440.90px;top:1216.30px;width:47.70px;height:23.70px;background:#efefef;border-radius:0px;"></div><div class="t" style="left:1445.96px;top:1222.22px;font-size:13.8px;line-height:13.8px;color:#444b58;">театрі</div><div class="a" style="left:1502.90px;top:1216.30px;width:47.10px;height:23.70px;background:#efefef;border-radius:0px;"></div><div class="t" style="left:1507.23px;top:1222.22px;font-size:13.8px;line-height:13.8px;color:#444b58;">школі</div><div class="a" style="left:1564.90px;top:1168.00px;width:108.00px;height:23.40px;background:#efefef;border-radius:0px;"></div><div class="t" style="left:1569.03px;top:1173.62px;font-size:13.8px;line-height:13.8px;color:#444b58;">музичній</div><div class="a" style="left:1564.90px;top:1200.00px;width:106.50px;height:24.30px;background:#efefef;border-radius:0px;"></div><div class="t" style="left:1569.03px;top:1206.52px;font-size:13.8px;line-height:13.8px;color:#444b58;">мистецтв</div><div class="a" style="left:1564.90px;top:1232.00px;width:109.10px;height:24.30px;background:#efefef;border-radius:0px;"></div><div class="t" style="left:1569.41px;top:1238.52px;font-size:13.8px;line-height:13.8px;color:#444b58;">спеціалізованій</div><div class="a" style="left:1564.90px;top:1264.30px;width:107.10px;height:23.70px;background:#efefef;border-radius:0px;"></div><div class="t" style="left:1569.41px;top:1270.22px;font-size:13.8px;line-height:13.8px;color:#444b58;">спортивній</div><div class="a" style="left:764.00px;top:756.10px;width:69.90px;height:37.80px;background:#03a9f4;border-radius:4px;"></div><div class="t" style="left:770.09px;top:764.75px;font-size:20.5px;line-height:20.5px;color:#fff;font-weight:bold;transform:scaleX(0.9432);transform-origin:0 0;">Коли?</div><div class="t" style="left:698.23px;top:665.52px;font-size:13.8px;line-height:13.8px;color:#444b58;">вранці</div><div class="t" style="left:701.63px;top:695.72px;font-size:13.8px;line-height:13.8px;color:#444b58;">вдень</div><div class="t" style="left:701.63px;top:725.52px;font-size:13.8px;line-height:13.8px;color:#444b58;">в обід</div><div class="t" style="left:700.03px;top:755.62px;font-size:13.8px;line-height:13.8px;color:#444b58;">вночі</div><div class="t" style="left:695.83px;top:785.52px;font-size:13.8px;line-height:13.8px;color:#444b58;">ввечері</div><div class="t" style="left:601.47px;top:815.62px;font-size:13.8px;line-height:13.8px;color:#444b58;">у першій половині дня</div><div class="t" style="left:606.03px;top:845.22px;font-size:13.8px;line-height:13.8px;color:#444b58;">від ранку до вечора</div><div class="a" style="left:945.10px;top:905.30px;width:115.50px;height:54.60px;background:#1a237e;border-radius:5px;"></div><div class="t" style="left:950.73px;top:915.84px;font-size:32.2px;line-height:32.2px;color:#fff;font-weight:bold;transform:scaleX(1.0063);transform-origin:0 0;">вдома</div><div class="a" style="left:598.90px;top:963.20px;width:265.20px;height:45.60px;background:#7986cb;border-radius:4px;"></div><div class="t" style="left:632.54px;top:970.45px;font-size:29px;line-height:29px;color:#fff;font-weight:bold;transform:scaleX(0.9170);transform-origin:0 0;">фразеологізми</div><div class="a" style="left:651.70px;top:1071.80px;width:176.90px;height:30.70px;background:#eeeeee;border-radius:5px;box-shadow:inset 0 0 0 1.3px #9aa6dc;"></div><div class="t" style="left:678.70px;top:1080.16px;font-size:13.4px;line-height:13.4px;color:#333;font-weight:bold;transform:scaleX(0.9931);transform-origin:0 0;">Поясніть значення</div><div class="a" style="left:460.10px;top:1029.20px;width:177.30px;height:23.10px;background:#eeeeee;border-radius:0px;"></div><div class="t" style="left:464.32px;top:1034.27px;font-size:13.5px;line-height:13.5px;color:#333;">Працювати в поті чола.</div><div class="a" style="left:460.10px;top:1063.20px;width:177.30px;height:22.90px;background:#eeeeee;border-radius:0px;"></div><div class="t" style="left:464.32px;top:1068.17px;font-size:13.5px;line-height:13.5px;color:#333;">Працювати над собою.</div><div class="a" style="left:460.10px;top:1096.90px;width:177.30px;height:23.10px;background:#eeeeee;border-radius:0px;"></div><div class="t" style="left:464.32px;top:1101.87px;font-size:13.5px;line-height:13.5px;color:#333;">Працювати з холодком.</div><div class="a" style="left:842.80px;top:1063.20px;width:177.30px;height:22.90px;background:#eeeeee;border-radius:0px;"></div><div class="t" style="left:846.62px;top:1067.97px;font-size:13.5px;line-height:13.5px;color:#333;">Працювати допізна.</div><div class="a" style="left:842.80px;top:1096.90px;width:177.30px;height:23.10px;background:#eeeeee;border-radius:0px;"></div><div class="t" style="left:847.03px;top:1101.87px;font-size:13.5px;line-height:13.5px;color:#333;">Сізіфова праця.</div><div class="a" style="left:842.80px;top:1011.90px;width:177.30px;height:40.40px;background:#eeeeee;border-radius:0px;"></div><div class="t" style="left:846.62px;top:1016.67px;font-size:13.5px;line-height:13.5px;color:#333;">Працювати не</div><div class="t" style="left:846.75px;top:1034.27px;font-size:13.5px;line-height:13.5px;color:#333;">покладаючи рук.</div></div>
<svg width="2100" height="1300"><rect x="308" y="11" width="398" height="150" rx="8" fill="none" stroke="#1e9e2c" stroke-width="2" stroke-dasharray="5,3"/><circle cx="660.3" cy="182.9" r="9.6" fill="#fff"/><circle cx="660.3" cy="182.9" r="8.8" fill="#f79a4d"/><path d="M653.6,182.9 L659.4,178.2 L659.4,181.2 L667.2,181.2 L667.2,184.6 L659.4,184.6 L659.4,187.6 Z" fill="#fff"/><rect x="1369" y="650.6" width="401.4000000000001" height="186.10000000000002" rx="8" fill="none" stroke="#37d257" stroke-width="2" stroke-dasharray="5,3"/><circle cx="1387.7" cy="755.8" r="10.2" fill="#fff"/><circle cx="1387.7" cy="755.8" r="8.7" fill="#f79a4d"/><path d="M1386,749.2 V756.3 H1383 L1387.7,762.6 L1392.4,756.3 H1389.4 V749.2 Z" fill="#fff"/><path d="M1550.3,754.5 H1567.6" fill="none" stroke="#fff" stroke-width="1.5" /><path d="M1562.6,751.3 L1567.9,754.5 L1562.6,757.7" fill="none" stroke="#fff" stroke-width="1.5" /></svg>
</body></html>
